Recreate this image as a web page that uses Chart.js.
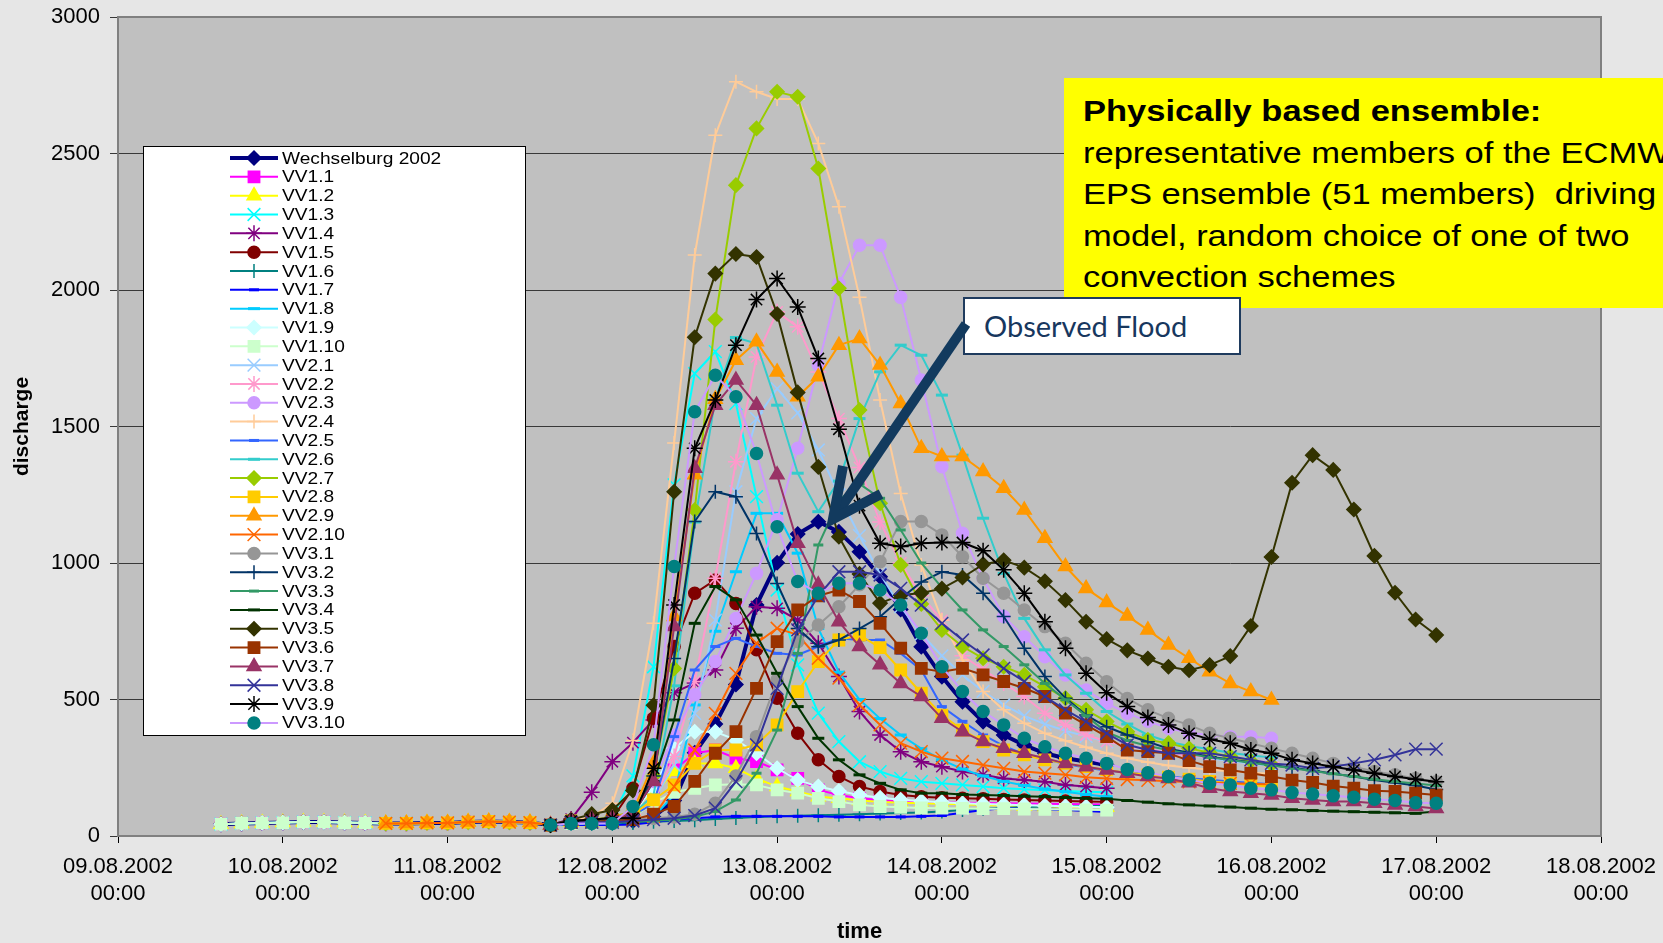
<!DOCTYPE html>
<html>
<head>
<meta charset="utf-8">
<script src="https://cdn.jsdelivr.net/npm/chart.js@4.4.1/dist/chart.umd.min.js"></script>
<style>
  html, body { margin: 0; padding: 0; background: #e6e6e6; overflow: hidden; }
  #wrap { position: relative; width: 1663px; height: 943px; }
  #note {
    position: absolute; left: 1064px; top: 78px; width: 620px; height: 230px;
    background: #ffff00; overflow: hidden;
  }
  #note .txt {
    position: absolute; left: 19px; top: 12px; white-space: nowrap;
    font: 30px "Liberation Sans", Arial, sans-serif; line-height: 41.5px; color: #000;
    transform: scaleX(1.15); transform-origin: 0 0;
  }
  #note b { font-weight: bold; }
  #flood {
    position: absolute; left: 963px; top: 297px; width: 278px; height: 58px;
    box-sizing: border-box; background: #fff; border: 2px solid #1f3b5e;
    font: 29px Lato, "Open Sans", sans-serif; color: #17375e;
    line-height: 54px; padding-left: 19px; white-space: nowrap;
  }
  #arrow { position: absolute; left: 0; top: 0; }
</style>
</head>
<body>
<div id="wrap">
  <canvas id="c" width="1663" height="943"></canvas>
  <div id="note"><div class="txt"><b>Physically based ensemble:</b><br>representative members of the ECMWF<br>EPS ensemble (51 members)&nbsp; driving<br>model, random choice of one of two<br>convection schemes</div></div>
  <div id="flood">Observed Flood</div>
  <svg id="arrow" width="1663" height="943">
    <line x1="966" y1="324" x2="838" y2="512" stroke="#123a5e" stroke-width="10"/>
    <polyline points="843,466 833,519 881,494" fill="none" stroke="#123a5e" stroke-width="10" stroke-linejoin="miter"/>
  </svg>
</div>
<script>
// days since 09.08.2002 00:00, 3-hourly steps
const dayLabels = ['09.08.2002','10.08.2002','11.08.2002','12.08.2002','13.08.2002',
                   '14.08.2002','15.08.2002','16.08.2002','17.08.2002','18.08.2002'];

// common spin-up values, 09.08 15:00 .. 11.08 15:00
const lead = [43,46,48,49,51,51,49,48,46,46,48,48,51,53,51,49,40];

// each series from 11.08 18:00 on
const wechselburg = [50,50,50,55,70,130,305,410,555,846, 1001,1106,1151,1114,1041,950,830,693, 584,492,419,370,333,303,285,273, 260];

const vv1_1  = [50,52,55,80,150,242,303,315,285,273, 242,211,169,150,138,132,128,126, 124,122,121,120,119,118,117,116, 115];
const vv1_2  = [50,52,55,80,150,236,266,266,248,211, 181,163,144,138,130,125,122,120, 118,116,114,112,110,108,107,106, 105];
const vv1_3  = [50,55,70,220,620,1286,1694,1774,1584,1243, 901,627,450,346,272,236,211,199, 193,187,181,175,171,168,165,162, 160];
const vv1_4  = [62,160,272,342,425,525,560,608,761,840, 834,791,706,584,456,370,309,272, 254,236,224,211,205,199,187,181, 175];
const vv1_5  = [50,55,65,175,431,694,889,938,852,682, 505,376,279,218,181,163,150,144, 140,138,136,134,132,130,128,126, 125];
const vv1_6  = [45,45,45,48,52,55,58,62,66,70, 72,74,76,78,80,82,84,86, 90,95,100,103,106,108,110,110, 110];
const vv1_7  = [40,40,40,42,50,60,65,70,72,72, 72,72,72,70,70,70,70,72, 75,85,95,102,100,97,95,92, 88];
const vv1_8  = [45,45,48,55,70,150,480,750,968,1182, 1182,1036,760,600,500,430,370,320, 279,245,220,200,185,172,162,152, 144];
const vv1_9  = [50,52,55,80,180,321,382,382,352,303, 248,205,181,165,150,140,133,128, 124,120,117,115,113,111,109,107, 105];
const vv1_10 = [45,47,50,70,120,160,175,187,190,187, 169,157,138,126,114,108,105,103, 102,101,100,100,99,98,97,96, 95];

const vv2_1  = [55,60,65,75,130,260,449,791,1261,1529, 1639,1550,1414,1250,1100,960,840,740, 660,590,530,480,440,410,385,365, 345,330,318,306,295,285,275,265, 258];
const vv2_2  = [55,60,65,80,130,291,566,944,1371,1755, 1920,1865,1700,1529,1350,1150,1000,880, 790,660,610,560,511,450,407,370, 346,330,318,305,295,288,282,276, 270];
const vv2_3  = [55,60,65,80,200,370,517,639,797,962, 1158,1420,1725,2024,2164,2164,1973,1670, 1353,1109,944,804,730,657,590,535, 486,450,420,395,378,370,364,364, 358];
const vv2_4  = [55,70,120,350,779,1440,2128,2567,2763,2726, 2700,2700,2537,2305,1973,1597,1255,993, 791,645,529,462,413,376,349,325, 303,285,270,258,250,243,237,232, 228];
const vv2_5  = [55,58,62,75,120,364,608,694,724,694, 669,663,694,724,718,718,669,608, 474,420,370,330,300,280,265,250, 240,232,225,218,212,206,200,195, 190];
const vv2_6  = [55,60,65,80,150,550,1150,1600,1826,1804, 1578,1329,1188,1300,1529,1700,1798,1761, 1615,1395,1164,962,797,682,590,523, 456,410,370,345,330,318,305,295, 288];
const vv2_7  = [55,60,70,90,220,614,1194,1892,2384,2592, 2726,2708,2445,2006,1560,1219,993,850, 755,694,651,620,590,547,505,462, 419,382,352,340,321,305,292,275, 262];
const vv2_8  = [55,58,62,80,132,187,266,315,315,334, 407,529,639,718,736,690,608,523, 443,388,346,315,297,279,266,254, 242,232,224,216,208,200,194,187, 180];
const vv2_9  = [55,60,65,90,266,804,1323,1600,1743,1810, 1700,1609,1682,1798,1822,1725,1584,1420, 1390,1390,1335,1274,1194,1091,987,907, 855,806,755,700,651,602,559,529, 498];
const vv2_10 = [50,52,55,58,71,181,315,449,596,706, 761,737,651,578,480,407,340,309, 285,273,260,248,236,230,224,215, 211,207,204,201,198,195,193,191, 189];

const vv3_1  = [50,55,60,62,65,70,80,120,220,364, 572,712,773,840,920,1005,1152,1152, 1103,1023,944,889,828,767,706,633, 565,504,462,431,407,376,358,340, 321,303,285,266,254,236,224,211, 199];
const vv3_2  = [55,60,65,80,220,650,1152,1261,1243,1108, 925,760,693,718,760,803,870,930, 968,956,889,804,688,584,505,443, 400,370,345,320,305,290,280,270, 260,250,240,228,218,205,195,185, 170];
const vv3_3  = [50,50,50,52,55,60,70,90,132,230, 388,669,1066,1230,1290,1237,1121,1000, 910,828,755,694,627,559,499,440, 380,350,330,315,300,288,278,268, 258,248,238,228,218,208,200,192, 185];
const vv3_4  = [50,52,55,80,200,425,779,914,865,736, 596,474,358,279,224,193,169,157, 157,152,150,148,146,144,141,138, 136,130,124,118,114,110,106,102, 98,96,93,91,89,87,85,83, 90];
const vv3_5  = [60,80,95,167,479,1261,1827,2060,2132,2121, 1912,1625,1352,1096,960,853,882,890, 906,947,995,1010,983,933,864,785, 721,680,650,620,607,626,659,769, 1022,1294,1395,1341,1196,1026,891,793, 736];
const vv3_6  = [50,52,55,60,80,108,200,303,382,541, 712,828,880,901,859,779,688,614, 602,614,590,566,541,511,450,407, 364,315,309,303,276,254,242,230, 218,205,196,183,175,166,163,157, 150];
const vv3_7  = [55,60,65,80,200,767,1347,1578,1670,1578, 1323,1072,920,785,694,627,559,511, 431,382,346,321,303,285,266,254, 242,230,218,211,195,175,163,157, 150,138,132,126,126,120,114,108, 101];
const vv3_8  = [50,50,50,55,60,65,75,102,199,334, 541,755,880,968,968,956,907,846, 779,718,663,614,566,511,462,419, 376,334,315,303,303,303,291,279, 266,260,248,254,266,279,297,318, 318];
const vv3_9  = [55,60,65,65,248,846,1420,1597,1798,1965, 2042,1938,1749,1490,1210,1072,1060,1072, 1075,1075,1045,975,889,785,688,596, 525,474,434,407,376,354,340,315, 303,279,266,254,242,230,218,208, 199];
const vv3_10 = [46,46,46,108,334,987,1554,1688,1609,1401, 1133,932,889,926,926,901,846,743, 620,529,456,407,358,327,303,285, 266,244,232,218,205,193,187,175, 169,159,154,147,142,135,130,122, 120];

// name, values, index into lead where the run starts
const seriesList = [
  ['Wechselburg 2002', wechselburg, 0],
  ['VV1.1', vv1_1, 0], ['VV1.2', vv1_2, 0], ['VV1.3', vv1_3, 0], ['VV1.4', vv1_4, 0], ['VV1.5', vv1_5, 0],
  ['VV1.6', vv1_6, 0], ['VV1.7', vv1_7, 0], ['VV1.8', vv1_8, 0], ['VV1.9', vv1_9, 0], ['VV1.10', vv1_10, 0],
  ['VV2.1', vv2_1, 8], ['VV2.2', vv2_2, 8], ['VV2.3', vv2_3, 8], ['VV2.4', vv2_4, 8], ['VV2.5', vv2_5, 8],
  ['VV2.6', vv2_6, 8], ['VV2.7', vv2_7, 8], ['VV2.8', vv2_8, 8], ['VV2.9', vv2_9, 8], ['VV2.10', vv2_10, 8],
  ['VV3.1', vv3_1, 16], ['VV3.2', vv3_2, 16], ['VV3.3', vv3_3, 16], ['VV3.4', vv3_4, 16], ['VV3.5', vv3_5, 16],
  ['VV3.6', vv3_6, 16], ['VV3.7', vv3_7, 16], ['VV3.8', vv3_8, 16], ['VV3.9', vv3_9, 16], ['VV3.10', vv3_10, 16]
];

// line colour, marker colour, marker, radius (Excel style)
const looks = [
  ['#000080','#000080','rectRot',7],
  ['#ff00ff','#ff00ff','rect',8], ['#ffff00','#ffff00','triangle',8], ['#00ffff','#00ffff','crossRot',9],
  ['#800080','#800080','star',8], ['#800000','#800000','circle',6], ['#008080','#008080','cross',7],
  ['#0000ff','#0000ff','line',5], ['#00ccff','#00ccff','line',6], ['#ccffff','#ccffff','rectRot',7],
  ['#ccffcc','#ccffcc','rect',8],
  ['#99ccff','#99ccff','crossRot',9], ['#ff99cc','#ff99cc','star',8], ['#cc99ff','#cc99ff','circle',6],
  ['#ffcc99','#ffcc99','cross',7], ['#3366ff','#3366ff','line',5], ['#33cccc','#33cccc','line',6],
  ['#99cc00','#99cc00','rectRot',7], ['#ffcc00','#ffcc00','rect',8], ['#ff9900','#ff9900','triangle',8],
  ['#ff6600','#ff6600','crossRot',9],
  ['#969696','#969696','circle',6], ['#003366','#003366','cross',7], ['#339966','#339966','line',5],
  ['#003300','#003300','line',6], ['#333300','#333300','rectRot',7], ['#993300','#993300','rect',8],
  ['#993366','#993366','triangle',8], ['#333399','#333399','crossRot',9], ['#000000','#000000','star',8],
  ['#cc99ff','#008080','circle',6]
];

const t0 = 0.625, step = 0.125;

function points(vals, from) {
  const all = lead.slice(from).concat(vals);
  const x0 = t0 + from * step;
  return all.map((v, i) => ({ x: x0 + i * step, y: v }));
}

const datasets = seriesList.map((s, i) => {
  const lk = looks[i];
  const isLine = lk[2] === 'line';
  return {
    label: s[0],
    data: points(s[1], s[2]),
    borderColor: lk[0],
    borderWidth: i === 0 ? 4 : 2,
    pointStyle: lk[2],
    pointRadius: lk[3],
    pointBackgroundColor: lk[1],
    pointBorderColor: lk[1],
    pointBorderWidth: isLine ? 3 : 1.5,
    tension: 0,
    order: 40 - i   // later series on top, like Excel
  };
});

const FONT = '"Liberation Sans", Arial, sans-serif';

const frame = {
  id: 'frame',
  beforeDraw(chart) {
    const { ctx, chartArea: a } = chart;
    ctx.save();
    ctx.fillStyle = '#e6e6e6';
    ctx.fillRect(0, 0, chart.width, chart.height);
    ctx.fillStyle = '#c0c0c0';
    ctx.fillRect(a.left, a.top, a.right - a.left, a.bottom - a.top);
    ctx.restore();
  },
  afterDraw(chart) {
    const { ctx, chartArea: a } = chart;
    ctx.save();
    ctx.strokeStyle = '#808080';
    ctx.lineWidth = 2;
    ctx.strokeRect(a.left, a.top, a.right - a.left, a.bottom - a.top);

    // legend box
    const lx = 143, ly = 146, lw = 382, lh = 589, row = 18.83, y0 = 158;
    ctx.fillStyle = '#fff';
    ctx.fillRect(lx, ly, lw, lh);
    ctx.strokeStyle = '#000';
    ctx.lineWidth = 1;
    ctx.strokeRect(lx + 0.5, ly + 0.5, lw, lh);
    chart.data.datasets.forEach((ds, i) => {
      const y = y0 + i * row;
      ctx.strokeStyle = ds.borderColor;
      ctx.lineWidth = ds.borderWidth;
      ctx.beginPath();
      ctx.moveTo(230, y);
      ctx.lineTo(278, y);
      ctx.stroke();
      ctx.fillStyle = ds.pointBackgroundColor;
      ctx.strokeStyle = ds.pointBorderColor;
      ctx.lineWidth = ds.pointBorderWidth;
      Chart.helpers.drawPoint(ctx, {
        pointStyle: ds.pointStyle, radius: ds.pointRadius,
        borderWidth: ds.pointBorderWidth, rotation: 0
      }, 254, y);
      ctx.save();
      ctx.translate(282, y + 1);
      ctx.scale(1.16, 1);
      ctx.fillStyle = '#000';
      ctx.font = '16.5px ' + FONT;
      ctx.textBaseline = 'middle';
      ctx.fillText(ds.label, 0, 0);
      ctx.restore();
    });
    ctx.restore();
  }
};

new Chart(document.getElementById('c'), {
  type: 'line',
  data: { datasets },
  options: {
    responsive: false,
    animation: false,
    devicePixelRatio: 1,
    events: [],
    layout: { padding: { top: 17, right: 62, bottom: 0, left: 0 } },
    plugins: { legend: { display: false }, tooltip: { enabled: false } },
    scales: {
      x: {
        type: 'linear', min: 0, max: 9,
        ticks: {
          stepSize: 1, autoSkip: false, maxRotation: 0, minRotation: 0, padding: 10,
          color: '#000', font: { family: FONT, size: 22, lineHeight: 1.25 },
          callback: v => [dayLabels[v], '00:00']
        },
        grid: { drawOnChartArea: false, drawTicks: true, tickLength: 7, color: '#000' },
        border: { color: '#404040', width: 2 },
        title: {
          display: true, text: 'time', color: '#000',
          font: { family: FONT, size: 22, weight: 'bold', lineHeight: 1.05 }, padding: { top: 4, bottom: 0 }
        },
        afterFit(s) { s.height = 107; s.paddingLeft = 0; s.paddingRight = 0; }
      },
      y: {
        min: 0, max: 3000,
        ticks: {
          stepSize: 500, padding: 10, color: '#000', font: { family: FONT, size: 22 },
          callback: v => String(v)
        },
        grid: { color: '#383838', lineWidth: 1, tickLength: 8 },
        border: { color: '#404040', width: 2 },
        title: {
          display: true, text: 'discharge', color: '#000',
          font: { family: FONT, size: 21, weight: 'bold' }, padding: { top: 10, bottom: 0 }
        },
        afterFit(s) { s.width = 118; s.paddingTop = 0; s.paddingBottom = 0; }
      }
    }
  },
  plugins: [frame]
});
</script>
</body>
</html>
